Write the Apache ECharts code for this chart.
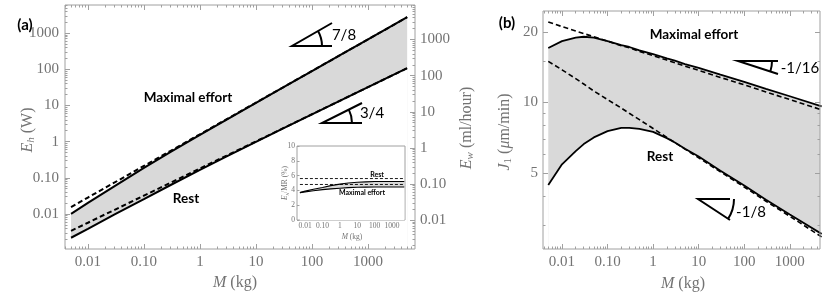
<!DOCTYPE html>
<html><head><meta charset="utf-8">
<script src="https://cdn.jsdelivr.net/npm/echarts@6/dist/echarts.min.js"></script>
<style>html,body{margin:0;padding:0;background:#fff}#c{width:830px;height:299px}</style>
</head><body><div id="c"></div>
<script>
// ---------- Panel (a): heat / water loss vs body mass ----------
const massA = [0.005, 0.01, 0.03, 0.1, 0.3, 1, 3, 10, 30, 100, 300, 1000, 5000];
const maxEffortSolid  = [0.0100, 0.0201, 0.0589, 0.1875, 0.519, 1.542, 4.08, 11.83, 31.0, 89.3, 234, 673, 2754];
const maxEffortDashed = [0.01549, 0.0284, 0.0741, 0.2128, 0.556, 1.596, 4.17, 11.97, 31.3, 89.7, 234, 673, 2754];
const restSolid       = [0.00219, 0.00385, 0.00964, 0.02547, 0.0630, 0.1644, 0.391, 0.986, 2.275, 5.65, 12.94, 32.0, 107.2];
const restDashed      = [0.00339, 0.00570, 0.0130, 0.0321, 0.0731, 0.180, 0.411, 1.014, 2.312, 5.70, 13.0, 32.1, 107.2];

// inset: E_h / MR (%)
const insetMass      = [0.005, 0.01, 0.03, 0.1, 0.3, 1, 3, 10, 30, 100, 1000, 5000];
const insetUpper     = [3.7, 3.9, 4.15, 4.4, 4.65, 4.85, 5.0, 5.1, 5.15, 5.2, 5.2, 5.2];
const insetLower     = [3.7, 3.8, 3.95, 4.1, 4.2, 4.3, 4.37, 4.42, 4.44, 4.45, 4.45, 4.45];
const insetRestLevel = [5.6, 5.6];
const insetMaxLevel  = [4.8, 4.8];
const insetLevelMass = [0.005, 5000];

// ---------- Panel (b): J1 vs body mass ----------
const massB = [0.005, 0.01, 0.02, 0.03, 0.05, 0.1, 0.2, 0.3, 0.5, 1, 2, 3, 5, 10, 30, 100, 300, 1000, 5000];
const j1MaxSolid  = [17.1, 18.3, 18.95, 19.1, 18.95, 18.3, 17.6, 17.27, 16.7, 16.1, 15.45, 15.1, 14.6, 14.07, 13.16, 12.26, 11.45, 10.64, 9.64];
const j1MaxDashed = [22.1, 21.1, 20.2, 19.7, 19.1, 18.3, 17.5, 17.15, 16.55, 15.85, 15.18, 14.8, 14.3, 13.73, 12.8, 11.9, 11.1, 10.3, 9.31];
const j1RestSolid = [4.45, 5.45, 6.2, 6.65, 7.1, 7.55, 7.8, 7.8, 7.72, 7.5, 7.05, 6.75, 6.35, 5.88, 5.12, 4.42, 3.85, 3.33, 2.75];
const j1RestDashed= [15.0, 13.8, 12.65, 12.0, 11.2, 10.3, 9.47, 9.0, 8.45, 7.75, 7.1, 6.75, 6.33, 5.81, 5.06, 4.36, 3.79, 3.27, 2.67];

// ---------- ticks ----------
const decades     = [0.001, 0.01, 0.1, 1, 10, 100, 1000, 10000];
const massTicks   = [0.01, 0.1, 1, 10, 100, 1000];
const massLabels  = ['0.01', '0.10', '1', '10', '100', '1000'];
const ehTicks     = [0.01, 0.1, 1, 10, 100, 1000];
const ehLabels    = ['0.01', '0.10', '1', '10', '100', '1000'];
const ewTicks     = [0.01, 0.1, 1, 10, 100, 1000];
const ewLabels    = ['0.01', '0.10', '1', '10', '100', '1000'];
const j1Ticks     = [5, 10, 20];
const j1Labels    = ['5', '10', '20'];
const j1Minor     = [3, 4, 6, 7, 8, 9, 15];
const insetYTicks = [0, 2, 4, 6, 8, 10];
const minorMult   = [2, 3, 4, 5, 6, 7, 8, 9];

const logMinor = [];
decades.forEach(d => minorMult.forEach(m => logMinor.push(+(d * m).toPrecision(3))));

const FRAME = '#a0a0a0', LABEL = '#737373', GRAY = '#d9d9d9';
const SERIF = 'Liberation Serif', SANS = 'Lato';

function fmtFrom(ticks, labels) {
  return function (v) {
    let best = 0, bd = Infinity;
    ticks.forEach((t, i) => { const d = Math.abs(Math.log(Math.max(v, 1e-9) / Math.max(t, 1e-9))); if (d < bd) { bd = d; best = i; } });
    return labels[best];
  };
}
function axis(o) {
  return {
    type: o.type || 'log', logBase: 10, gridIndex: o.grid, position: o.pos,
    min: o.min, max: o.max, interval: o.interval,
    axisLine: { show: false, onZero: false },
    splitLine: { show: false }, minorTick: { show: false },
    axisTick: { show: true, inside: true, length: o.len, customValues: o.ticks,
                lineStyle: { color: FRAME, width: 1 } },
    axisLabel: o.labels ? {
      show: true, customValues: o.ticks, formatter: o.type === 'value' ? '{value}' : fmtFrom(o.ticks, o.labels),
      fontFamily: SERIF, fontSize: o.fs || 15, color: LABEL, margin: o.margin, hideOverlap: false
    } : { show: false },
    z: o.z || 10, silent: true
  };
}
const pairs = (xs, ys) => xs.map((x, i) => [x, ys[i]]);

// axis ranges
const A = { xmin: 0.0039, xmax: 6900, ymin: 0.00107, ymax: 6000, ewmin: 0.0016, ewmax: 9000 };
const B = { xmin: 0.00383, xmax: 4600, ymin: 2.37, ymax: 24.6 };
const I = { xmin: 0.0034, xmax: 5500 };

const xAxis = [
  axis({ grid: 0, pos: 'bottom', min: A.xmin, max: A.xmax, ticks: massTicks, labels: massLabels, len: 5, margin: 6 }),
  axis({ grid: 0, pos: 'bottom', min: A.xmin, max: A.xmax, ticks: logMinor, len: 2.5 }),
  axis({ grid: 0, pos: 'top', min: A.xmin, max: A.xmax, ticks: massTicks, len: 5 }),
  axis({ grid: 0, pos: 'top', min: A.xmin, max: A.xmax, ticks: logMinor, len: 2.5 }),
  axis({ grid: 1, pos: 'bottom', min: B.xmin, max: B.xmax, ticks: massTicks, labels: massLabels, len: 5, margin: 6 }),
  axis({ grid: 1, pos: 'bottom', min: B.xmin, max: B.xmax, ticks: logMinor, len: 2.5 }),
  axis({ grid: 1, pos: 'top', min: B.xmin, max: B.xmax, ticks: massTicks, len: 5 }),
  axis({ grid: 1, pos: 'top', min: B.xmin, max: B.xmax, ticks: logMinor, len: 2.5 }),
  axis({ grid: 2, pos: 'bottom', min: I.xmin, max: I.xmax, ticks: massTicks, labels: massLabels, len: 2.5, margin: 2, fs: 7.5, z: 30 })
];
const yAxis = [
  axis({ grid: 0, pos: 'left', min: A.ymin, max: A.ymax, ticks: ehTicks, labels: ehLabels, len: 5, margin: 6 }),
  axis({ grid: 0, pos: 'left', min: A.ymin, max: A.ymax, ticks: logMinor, len: 2.5 }),
  axis({ grid: 0, pos: 'right', min: A.ewmin, max: A.ewmax, ticks: ewTicks, labels: ewLabels, len: 5, margin: 5 }),
  axis({ grid: 0, pos: 'right', min: A.ewmin, max: A.ewmax, ticks: logMinor, len: 2.5 }),
  axis({ grid: 1, pos: 'left', min: B.ymin, max: B.ymax, ticks: j1Ticks, labels: j1Labels, len: 5, margin: 5 }),
  axis({ grid: 1, pos: 'left', min: B.ymin, max: B.ymax, ticks: j1Minor, len: 2.5 }),
  axis({ grid: 1, pos: 'right', min: B.ymin, max: B.ymax, ticks: j1Ticks, len: 5 }),
  axis({ grid: 1, pos: 'right', min: B.ymin, max: B.ymax, ticks: j1Minor, len: 2.5 }),
  axis({ type: 'value', grid: 2, pos: 'left', min: 0, max: 10, interval: 2, ticks: insetYTicks,
         labels: insetYTicks.map(String), len: 2.5, margin: 2, fs: 7.5, z: 30 })
];

function area(x, y, data, color, z) {
  return { type: 'line', xAxisIndex: x, yAxisIndex: y, data, symbol: 'none', silent: true,
           lineStyle: { width: 0, opacity: 0 }, areaStyle: { color, opacity: 1, origin: 'start' }, z };
}
function line(x, y, data, w, dash, z) {
  return { type: 'line', xAxisIndex: x, yAxisIndex: y, data, symbol: 'none', silent: true,
           lineStyle: { color: '#000', width: w, type: dash || 'solid', cap: 'butt' }, z };
}

const series = [
  // (a)
  area(0, 0, pairs(massA, maxEffortSolid), GRAY, 2),
  area(0, 0, pairs(massA, restSolid), '#ffffff', 3),
  line(0, 0, pairs(massA, maxEffortSolid), 2, null, 5),
  line(0, 0, pairs(massA, restSolid), 2, null, 5),
  line(0, 0, pairs(massA, maxEffortDashed), 2, [5, 3], 6),
  line(0, 0, pairs(massA, restDashed), 2, [5, 3], 6),
  // (b)
  area(4, 4, pairs(massB, j1MaxSolid), GRAY, 2),
  area(4, 4, pairs(massB, j1RestSolid), '#ffffff', 3),
  line(4, 4, pairs(massB, j1MaxSolid), 1.8, null, 5),
  line(4, 4, pairs(massB, j1RestSolid), 1.8, null, 5),
  line(4, 4, pairs(massB, j1MaxDashed), 1.6, [5, 3], 6),
  line(4, 4, pairs(massB, j1RestDashed), 1.6, [5, 3], 6),
  // inset
  area(8, 8, pairs(insetMass, insetUpper), GRAY, 32),
  area(8, 8, pairs(insetMass, insetLower), '#ffffff', 33),
  line(8, 8, pairs(insetMass, insetUpper), 1.1, null, 35),
  line(8, 8, pairs(insetMass, insetLower), 1.1, null, 35),
  line(8, 8, pairs(insetLevelMass, insetRestLevel), 0.9, [3, 2], 36),
  line(8, 8, pairs(insetLevelMass, insetMaxLevel), 0.9, [3, 2], 36)
];

function txt(x, y, text, o) {
  o = o || {};
  return { type: 'text', x, y, rotation: o.rot || 0, z: 100, silent: true,
    style: { text, fill: o.fill || '#000', fontFamily: o.ff || SANS, fontSize: o.fs || 13,
             fontWeight: o.fw || 'normal', fontStyle: o.fst || 'normal',
             align: 'center', verticalAlign: 'middle', rich: o.rich } };
}
function richTitle(fs) {
  return {
    i: { fontFamily: SERIF, fontStyle: 'italic', fontSize: fs, fill: LABEL, lineHeight: fs + 2 },
    n: { fontFamily: SERIF, fontSize: fs, fill: LABEL, lineHeight: fs + 2 },
    s: { fontFamily: SERIF, fontStyle: 'italic', fontSize: Math.round(fs * 0.68), fill: LABEL, lineHeight: 6, verticalAlign: 'bottom' },
    sn: { fontFamily: SERIF, fontSize: Math.round(fs * 0.68), fill: LABEL, lineHeight: 6, verticalAlign: 'bottom' }
  };
}
function tri(x0, y0, dx, dy, r) {
  const ang = Math.atan2(dy, dx);
  return [
    { type: 'polyline', z: 100, silent: true, shape: { points: [[x0 + dx, y0], [x0, y0], [x0 + dx, y0 + dy]] },
      style: { stroke: '#000', lineWidth: 2, fill: null } },
    { type: 'arc', z: 100, silent: true,
      shape: { cx: x0, cy: y0, r, startAngle: Math.min(0, ang), endAngle: Math.max(0, ang), clockwise: true },
      style: { stroke: '#000', lineWidth: 2, fill: null } }
  ];
}

const graphic = [
  txt(25, 25, '(a)', { fw: 'bold', fs: 15 }),
  txt(507, 23, '(b)', { fw: 'bold', fs: 15 }),
  txt(188, 98, 'Maximal effort', { fw: 'bold', fs: 13.5 }),
  txt(186, 199, 'Rest', { fw: 'bold', fs: 13.5 }),
  txt(694, 35, 'Maximal effort', { fw: 'bold', fs: 13.5 }),
  txt(660, 157, 'Rest', { fw: 'bold', fs: 13.5 }),
  txt(344, 35, '7/8', { fs: 15 }),
  txt(372, 113, '3/4', { fs: 15 }),
  txt(800, 68, '-1/16', { fs: 15 }),
  txt(751, 212, '-1/8', { fs: 15 }),
  txt(377, 175, 'Rest', { fw: 'bold', fs: 7 }),
  txt(362, 193, 'Maximal effort', { fw: 'bold', fs: 7 }),
  // axis titles
  txt(28, 130, '{i|E}{s|h}{n| (W)}', { rich: richTitle(16), rot: Math.PI / 2 }),
  txt(235, 283, '{i|M}{n| (kg)}', { rich: richTitle(16) }),
  txt(683, 284, '{i|M}{n| (kg)}', { rich: richTitle(16) }),
  txt(467, 128, '{i|E}{s|w}{n| (ml/hour)}', { rich: richTitle(16), rot: Math.PI / 2 }),
  txt(505, 132, '{i|J}{sn|1}{n| (}{i|μ}{n|m/min)}', { rich: richTitle(16), rot: Math.PI / 2 }),
  txt(285, 183, '{i|E}{s|h}{n|/MR (%)}', { rich: richTitle(7.5), rot: Math.PI / 2 }),
  txt(352, 237, '{i|M}{n| (kg)}', { rich: richTitle(7.5) })
].concat(
  tri(292, 46, 40, -23, 30),
  tri(322, 123, 40, -20, 30),
  tri(738, 61, 40, 13, 34),
  tri(698, 199, 32, 21, 36)
);

const chart = echarts.init(document.getElementById('c'), null, { renderer: 'canvas' });
chart.setOption({
  animation: false,
  backgroundColor: '#ffffff',
  grid: [
    { left: 65, top: 5, width: 350, height: 244, show: true, borderColor: FRAME, borderWidth: 1,
      backgroundColor: 'transparent', containLabel: false, outerBoundsMode: 'none', z: 8 },
    { left: 543, top: 11, width: 277, height: 238, show: true, borderColor: FRAME, borderWidth: 1,
      backgroundColor: 'transparent', containLabel: false, outerBoundsMode: 'none', z: 8 },
    { left: 297, top: 146, width: 108, height: 74, show: true, borderColor: FRAME, borderWidth: 1,
      backgroundColor: '#ffffff', containLabel: false, outerBoundsMode: 'none', z: 20 }
  ],
  xAxis, yAxis, series, graphic
});
</script></body></html>
